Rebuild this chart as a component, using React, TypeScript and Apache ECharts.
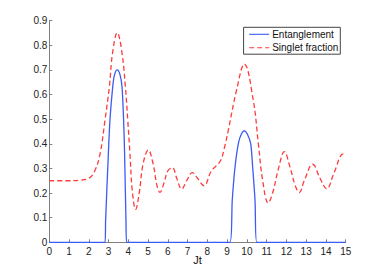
import React, { useEffect, useRef } from "react";
import * as echarts from "echarts";

const xTicks = [0, 15, 1];
const yTicks = [0, 0.9, 0.1];

const entanglement: [number, number][] = [
  [0, 0], [2.82, 0], [2.85, 0.09], [2.99, 0.361], [3.07, 0.497], [3.21, 0.632],
  [3.3, 0.68], [3.44, 0.70], [3.58, 0.68], [3.68, 0.632], [3.76, 0.497],
  [3.81, 0.361], [3.88, 0.09], [3.92, 0], [9.14, 0], [9.26, 0.172],
  [9.4, 0.307], [9.57, 0.402], [9.72, 0.44], [9.87, 0.453], [10.02, 0.44],
  [10.19, 0.402], [10.29, 0.307], [10.41, 0.172], [10.5, 0], [15, 0],
];

const singlet: [number, number][] = [
  [0, 0.25], [1, 0.25], [1.5, 0.252], [2, 0.26], [2.3, 0.29], [2.57, 0.36],
  [2.82, 0.497], [3.04, 0.632], [3.2, 0.768], [3.44, 0.851], [3.68, 0.768],
  [3.85, 0.632], [3.97, 0.497], [4.08, 0.362], [4.2, 0.21], [4.37, 0.134],
  [4.55, 0.2], [4.75, 0.32], [5.01, 0.375], [5.25, 0.32], [5.45, 0.23],
  [5.6, 0.203], [5.8, 0.24], [6.0, 0.29], [6.23, 0.303], [6.45, 0.26],
  [6.7, 0.216], [6.95, 0.25], [7.24, 0.283], [7.5, 0.26], [7.83, 0.23],
  [8.2, 0.29], [8.64, 0.328], [8.85, 0.38], [9.06, 0.456], [9.48, 0.619],
  [9.87, 0.724], [10.32, 0.578], [10.58, 0.4], [10.8, 0.25], [11.08, 0.16],
  [11.3, 0.2], [11.6, 0.3], [11.89, 0.368], [12.2, 0.3], [12.45, 0.23],
  [12.65, 0.202], [12.9, 0.25], [13.33, 0.317], [13.7, 0.26], [14.04, 0.217],
  [14.4, 0.28], [14.88, 0.359], [15, 0.355],
];

const seriesNames = ["Entanglement", "Singlet fraction"];

export default function App() {
  const ref = useRef<HTMLDivElement>(null);
  useEffect(() => {
    if (!ref.current) return;
    const chart = echarts.init(ref.current, null, { renderer: "svg" });
    const font = "Liberation Sans, Arial, Helvetica, sans-serif";
    chart.setOption({
      animation: false,
      backgroundColor: "#ffffff",
      textStyle: { fontFamily: font },
      grid: { left: 49.3, right: 36.3, top: 20.7, bottom: 30.7, containLabel: false },
      legend: {
        orient: "vertical",
        right: 41.7,
        top: 27.3,
        padding: [1.5, 2, 1, 5],
        itemGap: 2.4,
        itemWidth: 20,
        itemHeight: 11,
        borderColor: "#444444",
        borderWidth: 1,
        backgroundColor: "#ffffff",
        borderRadius: 0,
        itemStyle: { opacity: 0 },
        lineStyle: { width: 1.1 },
        textStyle: { fontSize: 10, color: "#111111", fontFamily: font, lineHeight: 11, padding: [0, 0, 0, -2] },
        data: seriesNames,
      },
      xAxis: {
        type: "value",
        min: xTicks[0],
        max: xTicks[1],
        interval: xTicks[2],
        name: "Jt",
        nameLocation: "middle",
        nameGap: 12,
        nameMoveOverlap: false,
        nameTextStyle: { fontSize: 11, color: "#111111", fontFamily: font },
        axisLine: { lineStyle: { color: "#808080", width: 1 } },
        axisTick: { inside: true, length: 3, lineStyle: { color: "#808080" } },
        axisLabel: { fontSize: 10, color: "#222222", margin: 4, fontFamily: font },
        splitLine: { show: false },
      },
      yAxis: {
        type: "value",
        min: yTicks[0],
        max: yTicks[1],
        interval: yTicks[2],
        axisLine: { show: true, lineStyle: { color: "#808080", width: 1 } },
        axisTick: { show: true, inside: true, length: 3, lineStyle: { color: "#808080" } },
        axisLabel: {
          fontSize: 10,
          color: "#222222",
          margin: 2,
          fontFamily: font,
          formatter: (v: number) => (v === 0 ? "0" : v.toFixed(1)),
        },
        splitLine: { show: false },
      },
      series: [
        {
          name: seriesNames[0],
          type: "line",
          data: entanglement,
          symbol: "none",
          smooth: 0.3,
          lineStyle: { color: "#3a5cf5", width: 1.3 },
          itemStyle: { color: "#3a5cf5" },
          z: 3,
        },
        {
          name: seriesNames[1],
          type: "line",
          data: singlet,
          symbol: "none",
          smooth: 0.4,
          lineStyle: { color: "#ff3b3b", width: 1.3, type: [5, 3] },
          itemStyle: { color: "#ff3b3b" },
          z: 2,
        },
      ],
    });
    return () => chart.dispose();
  }, []);
  return (
    <div
      ref={ref}
      style={{ position: "fixed", left: 0, top: 0, width: 382, height: 273 }}
    />
  );
}
